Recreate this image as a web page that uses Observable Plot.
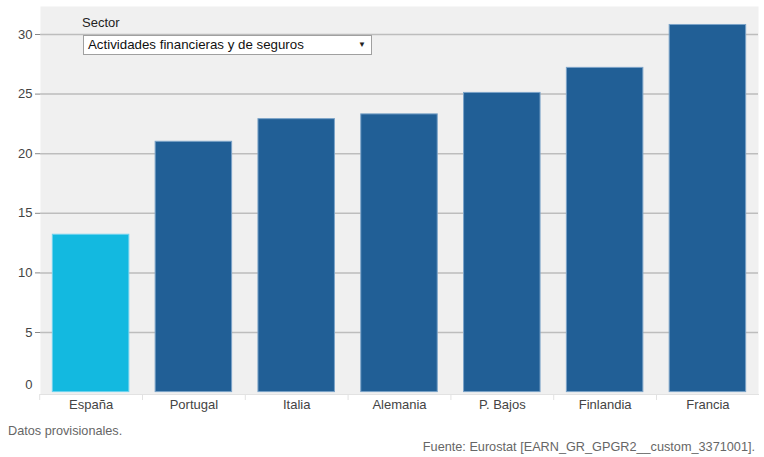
<!DOCTYPE html>
<html>
<head>
<meta charset="utf-8">
<script src="https://cdn.jsdelivr.net/npm/d3@7"></script>
<script src="https://cdn.jsdelivr.net/npm/@observablehq/plot@0.6"></script>
<style>
  body { margin: 0; background: #fff; font-family: "Liberation Sans", Arial, sans-serif; }
  #wrap { position: relative; width: 764px; }
  #chart { height: 418px; }
  #chart svg { display: block; }
  #sector-label { position: absolute; left: 82px; top: 15px; font-size: 13px; color: #222; }
  #sector-box { position: absolute; left: 83px; top: 35px; width: 289px; height: 20px; background: #fff;
    border: 1px solid #a0a0a0; box-sizing: border-box; font-size: 13.3px; color: #111; line-height: 18px; padding-left: 4px; }
  #sector-box .arrow { position: absolute; right: 5px; top: 0px; font-size: 8px; color: #222; }
  .note { font-size: 12.7px; color: #666; line-height: 15px; }
  #note1 { margin-top: 6px; padding-left: 8px; }
  #note2 { margin-top: 1px; text-align: right; padding-right: 9px; }
</style>
</head>
<body>
<div id="wrap">
  <div id="chart"></div>
  <div id="sector-label">Sector</div>
  <div id="sector-box">Actividades financieras y de seguros<span class="arrow">▼</span></div>
</div>
<div id="note1" class="note">Datos provisionales.</div>
<div id="note2" class="note">Fuente: Eurostat [EARN_GR_GPGR2__custom_3371001].</div>
<script>
const countries = ["España", "Portugal", "Italia", "Alemania", "P. Bajos", "Finlandia", "Francia"];
const values = [13.2, 21.0, 22.9, 23.3, 25.1, 27.2, 30.8];
const highlight = ["España"];
const yTicks = [5, 10, 15, 20, 25, 30];

const data = countries.map((c, i) => ({country: c, value: values[i], hi: highlight.includes(c)}));

const chart = Plot.plot({
  width: 764,
  height: 418,
  marginLeft: 40,
  marginRight: 6,
  marginTop: 6,
  marginBottom: 24,
  style: {fontFamily: "Liberation Sans, Arial, sans-serif", fontSize: "13px", color: "#444", background: "#fff"},
  x: {domain: countries, paddingInner: 0.256, paddingOuter: 0.12, round: false, label: null},
  y: {domain: [0, 32.35], insetBottom: 2.4, label: null},
  marks: [
    Plot.frame({fill: "#f0f0f0", stroke: null}),
    Plot.gridY(yTicks, {stroke: "#bdbdbd", strokeOpacity: 1, strokeWidth: 1.5}),
    Plot.axisY(yTicks, {tickSize: 5, tickPadding: 3, stroke: "#888", fill: "#444", fontSize: 13, label: null}),
    Plot.axisY([0], {tickSize: 0, tickPadding: 8, dy: -7, fill: "#444", fontSize: 13, label: null}),
    Plot.barY(data, {x: "country", y: "value",
      fill: d => d.hi ? "#13b9e0" : "#215f96",
      stroke: d => d.hi ? "#6fd3ef" : "#7ba3c8", strokeWidth: 1}),
    Plot.frame({anchor: "bottom", stroke: "#e2e2e2", strokeWidth: 1}),
    Plot.axisX({tickSize: 0, tickPadding: 5, fill: "#444", fontSize: 13, label: null}),
    Plot.axisX({tickSize: 6, tickFormat: () => "", stroke: "#e2e2e2", dx: -51.4, label: null})
  ]
});
document.getElementById("chart").appendChild(chart);
</script>
</body>
</html>
